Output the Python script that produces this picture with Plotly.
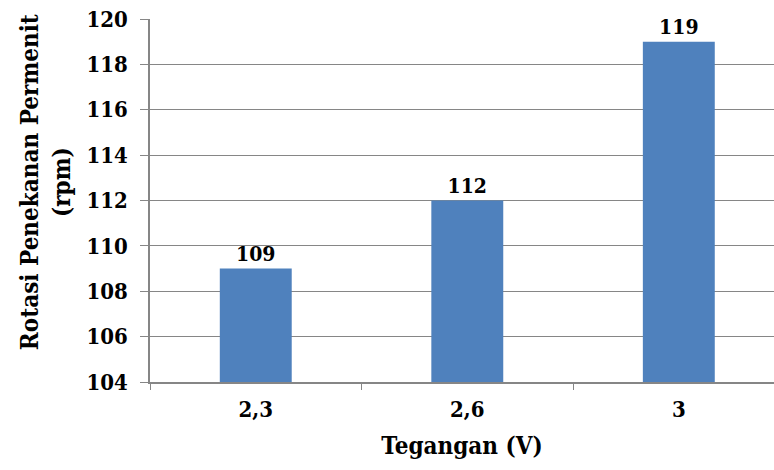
import plotly.graph_objects as go

categories = ["2,3", "2,6", "3"]
values = [109, 112, 119]
y_ticks = [104, 106, 108, 110, 112, 114, 116, 118, 120]

FONT = "DejaVu Serif Condensed, DejaVu Serif"
GRAY = "#868686"

fig = go.Figure(
    go.Bar(
        x=categories,
        y=values,
        width=0.34,
        marker=dict(color="#4F81BD", line=dict(width=0)),
        text=[f"<b>{v}</b>" for v in values],
        textposition="outside",
        textfont=dict(family=FONT, size=21, color="black", weight="bold"),
        cliponaxis=False,
    )
)

fig.update_layout(
    width=774,
    height=470,
    margin=dict(l=150, r=0, t=19, b=88),
    plot_bgcolor="white",
    paper_bgcolor="white",
    showlegend=False,
    font=dict(family=FONT, color="black", weight="bold"),
)

fig.update_xaxes(
    type="category",
    range=[-0.5, 2.45],
    tickson="boundaries",
    ticks="outside",
    ticklen=6,
    tickcolor=GRAY,
    showline=True,
    linecolor=GRAY,
    linewidth=1.5,
    showgrid=False,
    automargin=False,
    ticklabelstandoff=7,
    tickfont=dict(family=FONT, size=22, color="black", weight="bold"),
    title=dict(text="<b>Tegangan (V)</b>", font=dict(family=FONT, size=24, color="black", weight="bold"), standoff=16),
)

fig.update_yaxes(
    range=[104, 120],
    tickvals=y_ticks,
    ticks="outside",
    ticklen=8,
    tickcolor=GRAY,
    showline=True,
    linecolor=GRAY,
    linewidth=1.5,
    showgrid=True,
    gridcolor=GRAY,
    gridwidth=1,
    zeroline=False,
    automargin=False,
    ticklabelstandoff=8,
    tickfont=dict(family=FONT, size=22, color="black", weight="bold"),
)

fig.add_annotation(
    text="<b>Rotasi Penekanan Permenit<br>(rpm)</b>",
    xref="paper", yref="paper",
    x=-0.167, y=0.55,
    xanchor="center", yanchor="middle",
    textangle=-90,
    showarrow=False,
    font=dict(family=FONT, size=24, color="black", weight="bold"),
)

fig.write_html(
    "out.html",
    config={"displayModeBar": False},
    post_script="document.body.style.margin='0';",
)
